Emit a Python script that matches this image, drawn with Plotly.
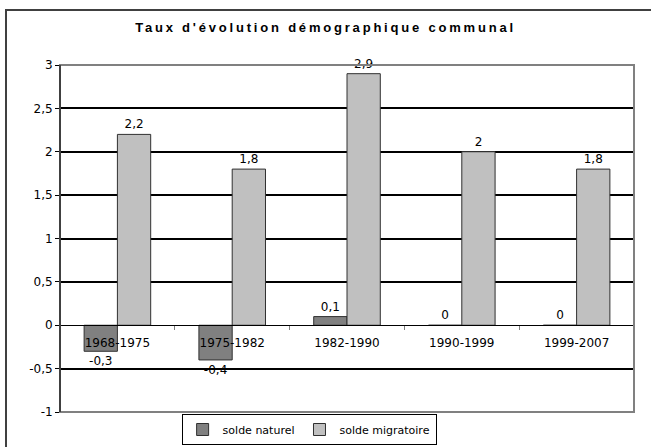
import plotly.graph_objects as go

categories = ["1968-1975", "1975-1982", "1982-1990", "1990-1999", "1999-2007"]
solde_naturel = [-0.3, -0.4, 0.1, 0, 0]
solde_migratoire = [2.2, 1.8, 2.9, 2, 1.8]
y_tick_values = [-1, -0.5, 0, 0.5, 1, 1.5, 2, 2.5, 3]
y_tick_labels = ["-1", "-0,5", "0", "0,5", "1", "1,5", "2", "2,5", "3"]
title_text = "Taux d'évolution démographique communal"

def fmt(v):
    return ("%g" % v).replace(".", ",")

font = dict(family="DejaVu Sans, Verdana, sans-serif", size=12, color="black")

fig = go.Figure()
fig.add_trace(go.Bar(
    x=categories, y=solde_naturel, name="solde naturel",
    marker=dict(color="#808080", line=dict(color="#303030", width=1)),
    text=[fmt(v) for v in solde_naturel], textposition="outside",
    textfont=font, cliponaxis=False,
))
fig.add_trace(go.Bar(
    x=categories, y=solde_migratoire, name="solde migratoire",
    marker=dict(color="#c0c0c0", line=dict(color="#303030", width=1)),
    text=[fmt(v) for v in solde_migratoire], textposition="outside",
    textfont=font, cliponaxis=False,
))

fig.update_layout(
    width=651, height=447,
    margin=dict(l=60, r=17, t=65, b=35, autoexpand=False),
    paper_bgcolor="white", plot_bgcolor="white",
    barmode="group", bargap=0.42, bargroupgap=0,
    font=font,
    title=dict(text='<b><span style="letter-spacing:2.8px">' + title_text + "</span></b>",
               x=0.5, xref="container",
               xanchor="center", y=1 - 27 / 447, yanchor="middle",
               font=dict(family="Liberation Sans, Arial, sans-serif", size=13, color="black")),
    showlegend=True,
    legend=dict(orientation="h", x=0.434, xanchor="center", y=(412 - 445) / 347, yanchor="bottom",
                bordercolor="black", borderwidth=1, bgcolor="white",
                font=dict(family="DejaVu Sans, Verdana, sans-serif", size=11, color="black"),
                itemwidth=30, tracegroupgap=0),
    xaxis=dict(anchor="free", position=0.25, showline=True, linecolor="black", linewidth=1,
               ticks="outside", tickson="boundaries", ticklen=4, tickcolor="#808080",
               showgrid=False, tickfont=font, ticklabelstandoff=6),
    yaxis=dict(range=[-1, 3], tickvals=y_tick_values, ticktext=y_tick_labels, domain=[0, 1],
               showgrid=True, gridcolor="black", gridwidth=2,
               zeroline=True, zerolinecolor="black", zerolinewidth=1,
               showline=True, linecolor="black", linewidth=1,
               ticks="outside", ticklen=4, tickcolor="black", tickfont=font),
    shapes=[
        dict(type="rect", xref="paper", yref="paper", x0=0, x1=1, y0=0, y1=1,
             line=dict(color="#808080", width=2), layer="above"),
        dict(type="line", xref="paper", yref="paper", x0=0, x1=0, y0=0, y1=1,
             line=dict(color="black", width=1), layer="above"),
        dict(type="rect", xref="paper", yref="paper",
             x0=(6 - 60) / 574, x1=(660 - 60) / 574,
             y0=(412 - 460) / 347, y1=(412 - 10) / 347,
             line=dict(color="#404040", width=2), layer="above"),
    ],
)

fig.write_html("out.html", config={"displayModeBar": False},
               post_script="document.body.style.margin='0';document.body.style.overflow='hidden';")
